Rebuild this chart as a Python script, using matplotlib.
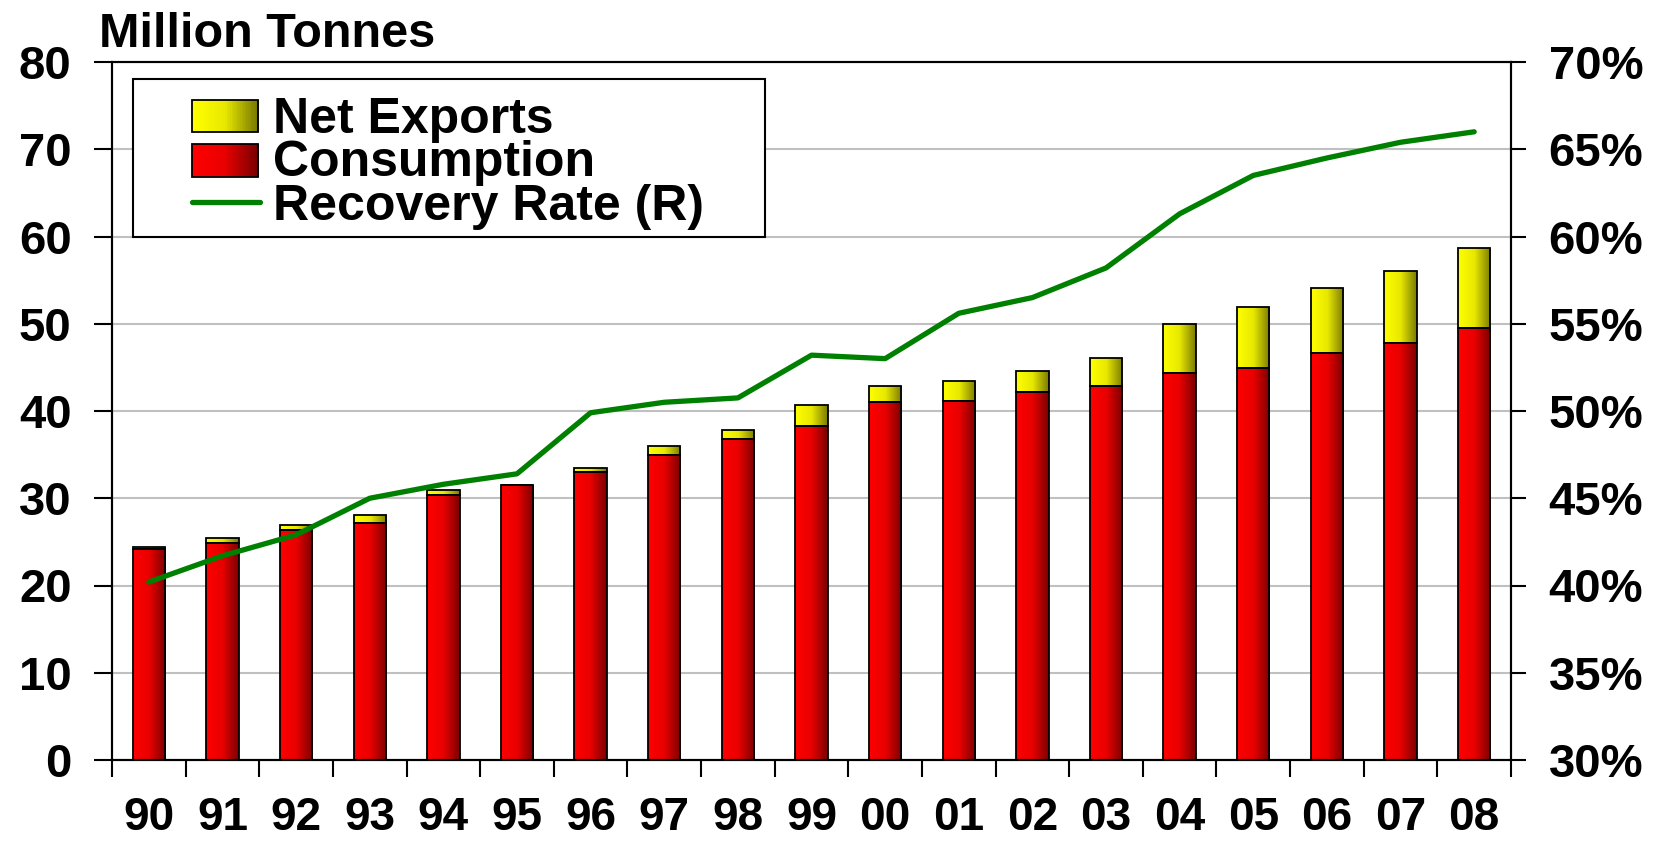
import numpy as np
import matplotlib
matplotlib.use('Agg')
import matplotlib.pyplot as plt
from matplotlib.patches import Rectangle
from matplotlib.colors import LinearSegmentedColormap
from matplotlib.lines import Line2D

years = ['90', '91', '92', '93', '94', '95', '96', '97', '98', '99',
         '00', '01', '02', '03', '04', '05', '06', '07', '08']
consumption = [24.2, 24.9, 26.4, 27.2, 30.4, 31.5, 33.0, 34.9, 36.8, 38.3,
               41.0, 41.2, 42.2, 42.9, 44.4, 44.9, 46.6, 47.8, 49.5]
net_exports = [0.2, 0.5, 0.5, 0.9, 0.6, 0.0, 0.5, 1.1, 1.0, 2.4,
               1.9, 2.2, 2.4, 3.2, 5.6, 7.0, 7.5, 8.3, 9.2]
recovery = [40.2, 41.7, 42.9, 45.0, 45.8, 46.4, 49.9, 50.5, 50.75, 53.2,
            53.0, 55.6, 56.5, 58.2, 61.3, 63.5, 64.5, 65.4, 66.0]
labels = ['Net Exports', 'Consumption', 'Recovery Rate (R)']

plt.rcParams['font.family'] = ['Liberation Sans', 'DejaVu Sans']
plt.rcParams['font.weight'] = 'bold'

red_cmap = LinearSegmentedColormap.from_list('r', ['#ff0000', '#e80000', '#7a0000'])
yel_cmap = LinearSegmentedColormap.from_list('y', ['#ffff00', '#e8e800', '#7a7a00'])
grad = np.linspace(0, 1, 256).reshape(1, -1)
green = '#008000'

W, H = 1667, 842
fig = plt.figure(figsize=(W / 100, H / 100), dpi=100)
ax = fig.add_axes([112 / W, 1 - 760 / H, (1511 - 112) / W, (760 - 62) / H])


def fx(px):
    return px / W


def fy(py):
    return 1 - py / H


x = np.arange(len(years))
w = 0.44


def grad_bars(bars, cmap):
    for b in bars:
        if b.get_height() <= 0:
            continue
        x0, y0 = b.get_x(), b.get_y()
        im = ax.imshow(grad, cmap=cmap, aspect='auto', zorder=2,
                       extent=(x0, x0 + b.get_width(), y0, y0 + b.get_height()))
        im.set_clip_path(b)


b1 = ax.bar(x, consumption, w, color='none', edgecolor='black', linewidth=1.3, zorder=3)
grad_bars(b1, red_cmap)
b2 = ax.bar(x, net_exports, w, bottom=consumption, color='none', edgecolor='black',
            linewidth=1.3, zorder=3)
grad_bars(b2, yel_cmap)

ax.set_xlim(-0.5, len(years) - 0.5)
ax.set_ylim(0, 80)
ax.set_yticks(range(0, 81, 10))
ax.grid(axis='y', color='#c0c0c0', linewidth=1.5, zorder=0)
ax.set_axisbelow(True)
ax.set_xticks(x)
ax.set_xticklabels(years, fontsize=33, fontweight='bold')
ax.set_xticks(np.arange(-0.5, len(years), 1), minor=True)
ax.tick_params(axis='x', which='major', length=0, pad=26)
ax.tick_params(axis='x', which='minor', length=12, width=1.5, direction='out')
ax.tick_params(axis='y', labelsize=34, length=13, width=1.5, direction='out', pad=16)
for s in ax.spines.values():
    s.set_linewidth(1.5)

ax2 = ax.twinx()
ax2.set_ylim(30, 70)
ax2.set_yticks(range(30, 71, 5))
ax2.set_yticklabels([f'{v}%' for v in range(30, 71, 5)], fontsize=34, fontweight='bold')
ax2.tick_params(axis='y', length=11, width=1.5, direction='out', pad=16)
ax2.plot(x, recovery, color=green, linewidth=3.8, solid_capstyle='round',
         solid_joinstyle='round', zorder=5)
for s in ax2.spines.values():
    s.set_linewidth(1.5)

fig.text(fx(99), fy(47), 'Million Tonnes', fontsize=35, fontweight='bold', va='baseline')

# legend box, drawn by hand to match the tight row spacing
fig.add_artist(Rectangle((fx(133), fy(237)), fx(765) - fx(133), fy(79) - fy(237),
                         transform=fig.transFigure, facecolor='white', edgecolor='black',
                         linewidth=1.5, zorder=20))


def grad_patch(px0, py0, pw, ph, cmap):
    n = 40
    for i in range(n):
        fig.add_artist(Rectangle((fx(px0 + pw * i / n), fy(py0 + ph)), fx(pw / n + 0.5), fy(0) - fy(ph),
                                 transform=fig.transFigure, facecolor=cmap(i / (n - 1)),
                                 edgecolor='none', zorder=21))
    fig.add_artist(Rectangle((fx(px0), fy(py0 + ph)), fx(pw), fy(0) - fy(ph),
                             transform=fig.transFigure, facecolor='none', edgecolor='black',
                             linewidth=1.3, zorder=22))


grad_patch(192, 100, 66, 32, yel_cmap)
grad_patch(192, 144, 66, 33, red_cmap)
fig.add_artist(Line2D([fx(192), fx(260)], [fy(202), fy(202)], transform=fig.transFigure,
                      color=green, linewidth=3.8, solid_capstyle='round', zorder=22))
for lab, base in zip(labels, [133, 176, 220]):
    fig.text(fx(273), fy(base), lab, fontsize=36, fontweight='bold', va='baseline', zorder=23)

fig.savefig('out.png', dpi=100)
